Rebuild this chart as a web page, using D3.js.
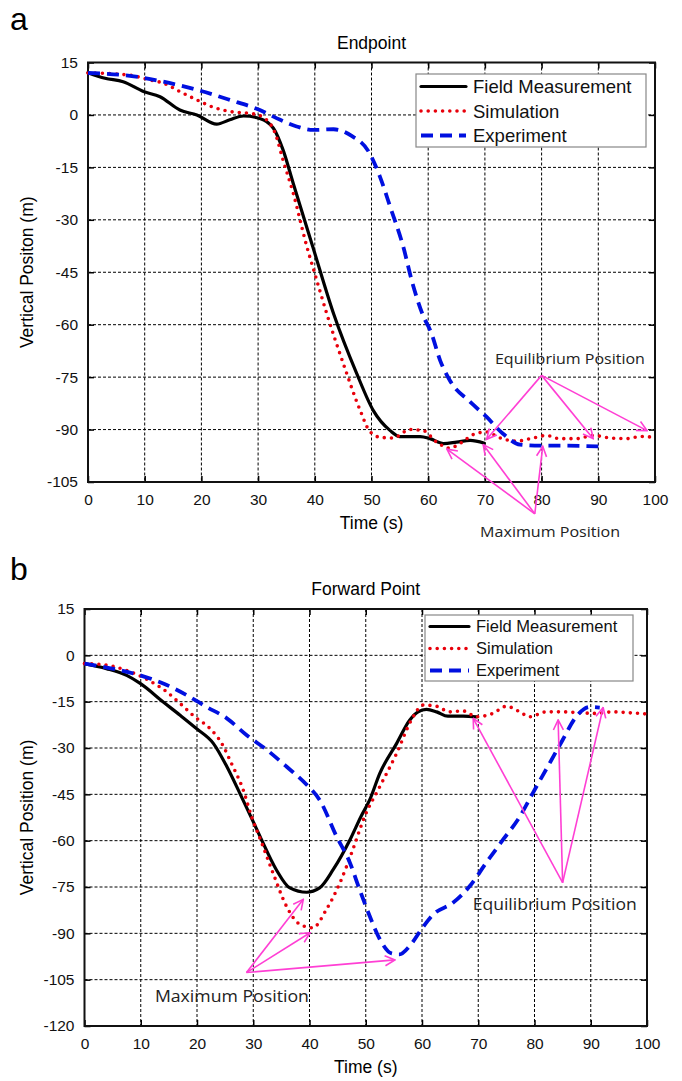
<!DOCTYPE html>
<html><head><meta charset="utf-8">
<script src="https://cdn.jsdelivr.net/npm/d3@7"></script>
<style>body{margin:0;background:#fff}svg{display:block}</style>
</head><body><svg id="c" width="682" height="1081" font-family="Arial, 'Liberation Sans', sans-serif"></svg>
<script>
// ---------- Data: panel a (Endpoint) ----------
const xTicks = [0,10,20,30,40,50,60,70,80,90,100];
const yTicksA = [15,0,-15,-30,-45,-60,-75,-90,-105];
const yTicksB = [15,0,-15,-30,-45,-60,-75,-90,-105,-120];
const seriesNames = ["Field Measurement","Simulation","Experiment"];

const fieldA = [[0,12.1],[3,10.5],[6.2,9.5],[9.8,6.7],[12.7,5.2],[16.2,1.4],[19.2,0],[22.7,-2.6],[25,-1.4],[27.4,-0.3],[30.3,-1],[32.7,-3.8],[34.4,-10],[36.2,-19.6],[39.7,-38],[43.3,-56.8],[47.4,-74],[50.3,-84.5],[53.3,-90.3],[55,-92],[58.6,-92],[60.3,-92.6],[62.7,-94],[65,-93.6],[67.4,-93.1],[69.9,-93.9]];
const simA = [[0,12],[5,11.7],[8,11.2],[10.9,10],[13.3,9.1],[16.2,6.7],[19.2,4.3],[22.1,2.2],[25,1],[29.2,0.3],[31.2,-1],[33,-5.2],[34.4,-12.9],[36.2,-22.4],[38.6,-37.7],[40,-45.4],[42.1,-56.8],[45,-71],[48,-84.5],[49.6,-90.3],[51.5,-92.2],[53.8,-92.4],[56.8,-90],[59.1,-90.3],[61.5,-93.6],[63.8,-95.3],[65.6,-94],[68,-91.4],[70.3,-90.7],[72.7,-92.4],[75.6,-93.3],[78.5,-92.4],[80.9,-91.7],[83.2,-92.6],[86.2,-92.6],[89.1,-91.7],[92.1,-92.4],[95,-92.6],[97.4,-92],[100,-92.2]];
const expA = [[0,12],[7.4,11.2],[13.3,9.5],[19.2,7.2],[25,4.3],[30.3,1.4],[33.9,-1.4],[36.8,-3.3],[39.7,-4.3],[43.3,-4.1],[46.5,-6],[49.5,-10.5],[51.5,-17.7],[53.3,-26.3],[55.6,-37.7],[57.2,-48],[59,-57],[60.6,-62.6],[62.1,-70.2],[63.8,-75.9],[67.4,-82.1],[70.3,-86.4],[73.2,-91.2],[76.2,-94.3],[79.7,-94.6],[83.2,-94.6],[90,-94.8]];

// ---------- Data: panel b (Forward Point) ----------
const fieldB = [[0,-2.7],[3.9,-4.3],[7.5,-6.5],[9.9,-9.1],[14,-15.1],[17,-19.4],[19.9,-23.7],[22.9,-28.5],[25.3,-36],[27.6,-44.6],[29.7,-52.7],[31.2,-58.6],[34.1,-69.4],[36.5,-75.3],[39.5,-76.7],[41.8,-75.3],[44.2,-69.4],[47.2,-59.7],[49.2,-52],[50.7,-46.8],[52.5,-38.2],[55.5,-28.5],[57.8,-21],[59.3,-18.3],[60.8,-17.5],[62.6,-18.3],[64.6,-19.7],[67.3,-19.7],[69.7,-19.9]];
const simB = [[0,-2.7],[2.8,-2.9],[7.8,-5.1],[11.9,-8.6],[14.6,-11.8],[17,-15.6],[19.6,-19.9],[22.3,-23.7],[24.4,-28.5],[26.1,-34.9],[28.2,-43.5],[29.7,-52.2],[31.5,-60.7],[33.5,-70.4],[35.9,-81.2],[38.3,-87.1],[40.6,-88.2],[43,-82.3],[45.4,-73.7],[47.7,-62.9],[49.8,-52.2],[52.5,-42.5],[55.5,-31.7],[58.1,-21],[60.2,-16.1],[62.6,-16.5],[64.9,-18.3],[67.3,-18],[69.7,-19.9],[72.6,-18.8],[75,-16.5],[77.4,-18.3],[79.1,-19.9],[82.1,-18.3],[85,-18.3],[88,-18.6],[91,-18.8],[93.9,-18.3],[96.9,-18.6],[100,-19]];
const expB = [[0,-2.7],[6.3,-4.8],[9.9,-6.5],[14,-9.1],[18.2,-12.9],[21.7,-16.7],[25.3,-20.4],[28.8,-25.8],[32.4,-30.6],[35.9,-36],[39.5,-41.9],[41.8,-46.8],[44.8,-58.6],[47.2,-67.2],[48.9,-75.8],[50.7,-84.4],[52.5,-91.9],[54.6,-96.5],[56,-96.8],[57.8,-94.1],[59.9,-88.7],[62,-83.9],[65.5,-80.1],[68.5,-74.7],[71.4,-67.2],[74.4,-59.7],[77.4,-52.2],[79.7,-44.6],[82.7,-34.9],[85,-27.4],[87.4,-19.9],[89.8,-16.7],[91.6,-16.9]];

// ---------- Annotations (data coordinates) ----------
const annoA = [
  {label:"Equilibrium Position", text:[85,-71.3], size:14.5, len:150, from:[80,-74.5], to:[[70.3,-92.8],[89.1,-92.6],[98.6,-90.3]]},
  {label:"Maximum Position", text:[81.5,-120.6], size:14.5, len:140, from:[78.8,-114.1], to:[[63.3,-95.6],[69.7,-94.3],[80.2,-94.8]]}
];
const annoB = [
  {label:"Equilibrium Position", text:[83.6,-82.6], size:16, len:164, from:[85,-73.6], to:[[69.1,-20.4],[84.2,-20.9],[92.2,-16.9]]},
  {label:"Maximum Position", text:[26.2,-112.2], size:16, len:154, from:[28.8,-102.7], to:[[38.9,-79],[40.1,-89.8],[55.2,-98.6]]}
];

const svg = d3.select("#c");
const defs = svg.append("defs");
defs.append("marker").attr("id","arr").attr("viewBox","0 0 12 12").attr("refX",11).attr("refY",6)
  .attr("markerWidth",12).attr("markerHeight",12).attr("markerUnits","userSpaceOnUse").attr("orient","auto")
  .append("path").attr("d","M1,1 L11,6 L1,11").attr("fill","none").attr("stroke","#ff3fd4").attr("stroke-width",1.6);

const styles = [
  {stroke:"#000", width:3.2, dash:null, cap:"round"},
  {stroke:"#e8000b", width:3.6, dash:"0,7.2", cap:"round"},
  {stroke:"#0010e0", width:3.8, dash:"12,7", cap:"butt"}
];
const fmt = d => String(d);

function panel(cfg){
  const x = d3.scaleLinear().domain([0,100]).range([cfg.l,cfg.r]);
  const y = d3.scaleLinear().domain([cfg.yMin,15]).range([cfg.b,cfg.t]);
  const g = svg.append("g");
  // grid
  g.append("g").selectAll("line").data(xTicks.slice(1,-1)).join("line")
    .attr("x1",d=>x(d)).attr("x2",d=>x(d)).attr("y1",cfg.t).attr("y2",cfg.b)
    .attr("stroke","#000").attr("stroke-width",1).attr("stroke-dasharray","3,2");
  g.append("g").selectAll("line").data(cfg.yTicks.slice(1,-1)).join("line")
    .attr("y1",d=>y(d)).attr("y2",d=>y(d)).attr("x1",cfg.l).attr("x2",cfg.r)
    .attr("stroke","#000").attr("stroke-width",1).attr("stroke-dasharray","3,2");
  // axes
  const ax = d3.axisBottom(x).tickValues(xTicks).tickFormat(fmt).tickSize(-6).tickPadding(12);
  const ay = d3.axisLeft(y).tickValues(cfg.yTicks).tickFormat(fmt).tickSize(-6).tickPadding(10);
  const axT = d3.axisTop(x).tickValues(xTicks).tickSize(-6).tickFormat("");
  const ayR = d3.axisRight(y).tickValues(cfg.yTicks).tickSize(-6).tickFormat("");
  [[ax,`translate(0,${cfg.b})`],[ay,`translate(${cfg.l},0)`],[axT,`translate(0,${cfg.t})`],[ayR,`translate(${cfg.r},0)`]].forEach(([a,tr])=>{
    const gg = g.append("g").attr("transform",tr).call(a);
    gg.attr("font-family",null).attr("font-size",null);
    gg.select(".domain").remove();
    gg.selectAll("line").attr("stroke","#000").attr("stroke-width",1.5);
    gg.selectAll("text").attr("font-size",15.5).attr("fill","#111");
  });
  g.append("rect").attr("x",cfg.l).attr("y",cfg.t).attr("width",cfg.r-cfg.l).attr("height",cfg.b-cfg.t)
    .attr("fill","none").attr("stroke","#111").attr("stroke-width",2);
  // series
  const line = d3.line().x(d=>x(d[0])).y(d=>y(d[1])).curve(d3.curveMonotoneX);
  cfg.series.forEach((s,i)=>{
    const st = styles[i];
    g.append("path").datum(s).attr("d",line).attr("fill","none").attr("stroke",st.stroke)
      .attr("stroke-width",st.width).attr("stroke-dasharray",st.dash).attr("stroke-linecap",st.cap).attr("stroke-linejoin","round");
  });
  // texts
  svg.append("text").attr("x",cfg.panelX).attr("y",cfg.panelY).attr("font-size",32).text(cfg.panel);
  svg.append("text").attr("x",(cfg.l+cfg.r)/2).attr("y",cfg.t-14).attr("text-anchor","middle").attr("font-size",17.5).text(cfg.title);
  svg.append("text").attr("x",(cfg.l+cfg.r)/2).attr("y",cfg.b+47).attr("text-anchor","middle").attr("font-size",17.5).text("Time (s)");
  svg.append("text").attr("transform",`translate(${cfg.ylx},${(cfg.t+cfg.b)/2}) rotate(-90)`).attr("text-anchor","middle").attr("font-size",17.5).text(cfg.ylabel);
  // legend
  const L = cfg.legend;
  const lg = svg.append("g");
  lg.append("rect").attr("x",L.x).attr("y",L.y).attr("width",L.w).attr("height",L.h).attr("fill","#fff").attr("stroke","#888").attr("stroke-width",1.2);
  seriesNames.forEach((n,i)=>{
    const st = styles[i];
    const yy = L.y + L.pad + i*L.step;
    lg.append("line").attr("x1",L.x+5).attr("x2",L.x+L.ll).attr("y1",yy).attr("y2",yy).attr("stroke",st.stroke)
      .attr("stroke-width",st.width).attr("stroke-dasharray",st.dash).attr("stroke-linecap",st.cap);
    lg.append("text").attr("x",L.x+L.tx).attr("y",yy+L.fs*0.36).attr("font-size",L.fs).attr("fill","#111").text(n);
  });
  // annotations
  cfg.anno.forEach(a=>{
    a.to.forEach(t=>{
      svg.append("line").attr("x1",x(a.from[0])).attr("y1",y(a.from[1])).attr("x2",x(t[0])).attr("y2",y(t[1]))
        .attr("stroke","#ff3fd4").attr("stroke-width",1.6).attr("marker-end","url(#arr)");
    });
    svg.append("text").attr("x",x(a.text[0])).attr("y",y(a.text[1])).attr("text-anchor","middle")
      .attr("font-family","'Open Sans', 'Noto Sans', sans-serif").attr("font-size",a.size).attr("fill","#222")
      .attr("textLength",a.len).attr("lengthAdjust","spacingAndGlyphs").text(a.label);
  });
}

panel({l:88,r:655,t:62.5,b:482,yMin:-105,yTicks:yTicksA,series:[fieldA,simA,expA],
  panel:"a",panelX:10,panelY:30,title:"Endpoint",ylabel:"Vertical Positon (m)",ylx:33,
  legend:{x:416,y:74,w:230,h:73,pad:12.5,step:24.5,tx:57,ll:50,fs:18.5},anno:annoA});
panel({l:84.5,r:647,t:609,b:1026,yMin:-120,yTicks:yTicksB,series:[fieldB,simB,expB],
  panel:"b",panelX:10,panelY:580,title:"Forward Point",ylabel:"Vertical Position (m)",ylx:33,
  legend:{x:425,y:615,w:208,h:66,pad:11.5,step:22,tx:51,ll:44,fs:16.5},anno:annoB});
</script></body></html>
